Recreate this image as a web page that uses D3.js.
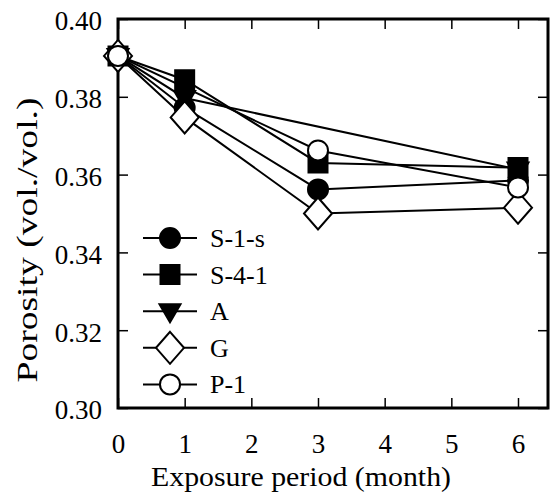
<!DOCTYPE html>
<html>
<head>
    <meta charset="utf-8">
    <style>body{margin:0}</style>
</head>
<body>
   <svg class="chart" width="550" height="493">
      <text x="301" y="486" font-family="Liberation Serif" font-size="28" text-anchor="middle" textLength="300" lengthAdjust="spacingAndGlyphs">Exposure period (month)</text>
      <text transform="translate(37,240) rotate(-90)" font-family="Liberation Serif" font-size="29" text-anchor="middle" textLength="285" lengthAdjust="spacingAndGlyphs">Porosity (vol./vol.)</text>
   </svg>

   <script src="https://d3js.org/d3.v7.min.js"></script>
   <script>
        // data
        var seriesNames = ['S-1-s', 'S-4-1', 'A', 'G', 'P-1'];
        var months_S1s = [0, 1, 3, 6];
        var values_S1s = [0.3905, 0.3772, 0.3562, 0.3585];
        var months_S41 = [0, 1, 3, 6];
        var values_S41 = [0.3905, 0.3844, 0.3630, 0.3618];
        var months_A = [0, 1, 6];
        var values_A = [0.3905, 0.3797, 0.3613];
        var months_G = [0, 1, 3, 6];
        var values_G = [0.3905, 0.3747, 0.3500, 0.3515];
        var months_P1 = [0, 3, 6];
        var values_P1 = [0.3905, 0.3662, 0.3567];

        var xTicks = [0, 1, 2, 3, 4, 5, 6];
        var yTicks = [0.30, 0.32, 0.34, 0.36, 0.38, 0.40];

        var FONT = 'Liberation Serif';

        var svg = d3.select('.chart'),
            padding = {left: 118, right: 2, top: 19, bottom: 85},
            width = +svg.attr('width'),
            height = +svg.attr('height'),
            plot_w = width - padding.left - padding.right,
            plot_h = height - padding.top - padding.bottom;

        var g = svg.append('g')
                    .attr('transform', 'translate(' + padding.left + ',' + padding.top + ')');

        // scales
        var xscale = d3.scaleLinear().domain([0, 6.45]).range([0, plot_w]);
        var yscale = d3.scaleLinear().domain([0.30, 0.40]).range([plot_h, 0]);

        // marker shapes
        var circleType = {draw: function(ctx){ ctx.moveTo(10, 0); ctx.arc(0, 0, 10, 0, 2 * Math.PI); }};
        var squareType = {draw: function(ctx){ ctx.rect(-9.5, -9.5, 19, 19); }};
        var triDownType = {draw: function(ctx){
            ctx.moveTo(-10.5, -7); ctx.lineTo(10.5, -7); ctx.lineTo(0, 11); ctx.closePath();
        }};
        var diamondType = {draw: function(ctx){
            ctx.moveTo(0, -16); ctx.lineTo(14, 0); ctx.lineTo(0, 16); ctx.lineTo(-14, 0); ctx.closePath();
        }};

        var series = [
            {name: seriesNames[0], x: months_S1s, y: values_S1s, type: circleType, fill: '#000'},
            {name: seriesNames[1], x: months_S41, y: values_S41, type: squareType, fill: '#000'},
            {name: seriesNames[2], x: months_A, y: values_A, type: triDownType, fill: '#000'},
            {name: seriesNames[3], x: months_G, y: values_G, type: diamondType, fill: '#fff'},
            {name: seriesNames[4], x: months_P1, y: values_P1, type: circleType, fill: '#fff'}
        ];
        series.forEach(function(s){
            s.points = s.x.map(function(m, i){ return {x: m, y: s.y[i]}; });
        });

        // axes, ticks pointing inward on all four sides
        var bottomAxis = d3.axisBottom(xscale).tickValues(xTicks).tickSizeInner(-10).tickSizeOuter(0)
                        .tickPadding(26).tickFormat(d3.format('d'));
        var topAxis = d3.axisTop(xscale).tickValues(xTicks).tickSizeInner(-10).tickSizeOuter(0).tickFormat('');
        var leftAxis = d3.axisLeft(yscale).tickValues(yTicks).tickSizeInner(-10).tickSizeOuter(0)
                        .tickPadding(16).tickFormat(d3.format('.2f'));
        var rightAxis = d3.axisRight(yscale).tickValues(yTicks).tickSizeInner(-10).tickSizeOuter(0).tickFormat('');

        g.append('g').attr('class', 'axis').attr('transform', 'translate(0,' + plot_h + ')').call(bottomAxis);
        g.append('g').attr('class', 'axis').call(topAxis);
        g.append('g').attr('class', 'axis y-left').call(leftAxis);
        g.append('g').attr('class', 'axis').attr('transform', 'translate(' + plot_w + ',0)').call(rightAxis);

        g.selectAll('.axis').attr('font-family', FONT).attr('font-size', 27);
        g.selectAll('.axis .domain').remove();
        g.selectAll('.axis line').attr('stroke', '#000').attr('stroke-width', 1.5);
        g.selectAll('.axis text')
            .attr('font-family', FONT)
            .attr('font-size', 27)
            .attr('fill', '#000');
        g.selectAll('.y-left text').attr('dy', '0.4em');

        // frame
        g.append('rect')
            .attr('x', 0).attr('y', 0)
            .attr('width', plot_w).attr('height', plot_h)
            .attr('fill', 'none')
            .attr('stroke', '#000')
            .attr('stroke-width', 3);

        // lines
        var line = d3.line()
                    .x(function(d){ return xscale(d.x); })
                    .y(function(d){ return yscale(d.y); });

        g.selectAll('.series-line')
            .data(series)
            .enter()
            .append('path')
            .attr('class', 'series-line')
            .attr('fill', 'none')
            .attr('stroke', '#000')
            .attr('stroke-width', 2)
            .attr('d', function(d){ return line(d.points); });

        // markers
        series.forEach(function(s){
            g.selectAll(null)
                .data(s.points)
                .enter()
                .append('path')
                .attr('d', d3.symbol().type(s.type))
                .attr('transform', function(d){ return 'translate(' + xscale(d.x) + ',' + yscale(d.y) + ')'; })
                .attr('fill', s.fill)
                .attr('stroke', '#000')
                .attr('stroke-width', 2);
        });

        // legend
        var legend = svg.append('g').attr('transform', 'translate(143,238)');
        var item = legend.selectAll('.item')
                    .data(series)
                    .enter()
                    .append('g')
                    .attr('transform', function(d, i){ return 'translate(0,' + (i * 36.6) + ')'; });
        item.append('line')
            .attr('x1', 0).attr('x2', 54)
            .attr('stroke', '#000').attr('stroke-width', 2);
        item.append('path')
            .attr('d', function(d){ return d3.symbol().type(d.type)(); })
            .attr('transform', 'translate(27,0)')
            .attr('fill', function(d){ return d.fill; })
            .attr('stroke', '#000')
            .attr('stroke-width', 2);
        item.append('text')
            .attr('x', 67)
            .attr('y', 9)
            .attr('font-family', FONT)
            .attr('font-size', 26)
            .text(function(d){ return d.name; });
   </script>
</body>
</html>
